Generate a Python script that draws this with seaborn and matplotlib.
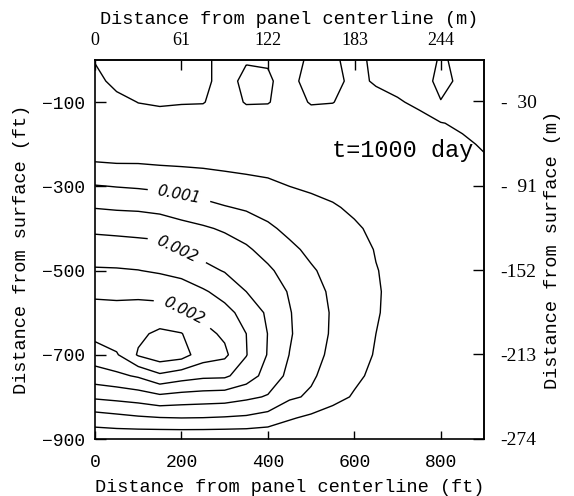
import numpy as np
import matplotlib
matplotlib.use("Agg")
import matplotlib.pyplot as plt
import seaborn as sns

# Grid: distance from panel centerline (ft) and depth (ft)
x_ft = [0, 50, 100, 150, 200, 250, 300, 350, 400, 450,
        500, 550, 600, 650, 700, 750, 800, 850, 900]
depth_ft = [0, -50, -100, -150, -200, -250, -300, -350, -400, -450,
            -500, -550, -600, -650, -700, -750, -800, -850, -900]

# Estimated field values (units of 1e-4), one list per x column, top to bottom
col_000 = [-0.3, 1.5, 2.5, 3.2, 4.0, 5.2, 10.3, 14.8, 19.1, 22.4, 25.5, 29.0, 31.8, 31.5, 27.5, 22.8, 15.8, 7.7, 1.5]
col_050 = [-2.0, -1.5, 1.5, 3.0, 4.0, 5.1, 9.85, 14.4, 18.8, 22.2, 25.4, 28.9, 31.5, 33.0, 29.5, 23.9, 16.5, 8.5, 1.5]
col_100 = [-3.0, -2.0, -0.1, 2.5, 3.9, 5.1, 9.5, 14.2, 18.5, 21.9, 25.1, 28.9, 31.8, 34.0, 35.5, 25.6, 17.3, 9.3, 1.2]
col_150 = [-3.5, -2.5, -0.6, 2.3, 3.8, 5.0, 9.0, 13.6, 18.0, 21.7, 24.4, 28.5, 31.8, 36.0, 38.0, 29.0, 18.8, 9.8, 1.0]
col_200 = [-3.0, -2.2, -0.3, 2.4, 3.6, 4.8, 8.0, 12.6, 16.6, 19.6, 23.5, 27.4, 30.4, 35.2, 37.0, 27.2, 18.0, 10.0, 1.0]
col_250 = [-1.0, -1.0, -0.2, 2.4, 3.5, 4.6, 7.4, 11.6, 15.6, 18.3, 21.4, 25.6, 28.8, 31.4, 32.4, 26.0, 17.6, 9.9, 1.0]
col_300 = [1.5, 1.5, 1.8, 2.6, 3.3, 4.3, 6.8, 10.3, 14.4, 17.3, 19.7, 23.3, 26.5, 29.2, 31.0, 25.8, 17.3, 9.6, 1.0]
col_350 = [0.3, -1.0, -0.3, 2.3, 3.1, 4.1, 6.2, 9.4, 12.8, 15.7, 18.2, 20.0, 23.3, 25.0, 25.2, 22.6, 16.0, 9.2, 1.0]
col_400 = [0.2, -0.3, -0.2, 2.2, 2.9, 3.8, 5.8, 8.3, 10.8, 13.3, 15.8, 17.8, 19.2, 19.9, 19.7, 18.0, 14.6, 8.0, 1.0]
col_450 = [0.6, 0.9, 1.6, 2.2, 2.7, 3.6, 5.0, 6.9, 8.9, 11.0, 13.0, 14.6, 15.3, 15.5, 14.9, 13.8, 10.8, 5.5, 0.8]
col_500 = [-0.3, -1.2, -0.3, 2.0, 2.5, 3.3, 4.5, 6.0, 7.5, 9.0, 10.5, 11.5, 12.0, 12.0, 11.6, 10.7, 9.3, 4.0, 0.6]
col_550 = [-0.2, -0.8, -0.1, 1.9, 2.4, 3.1, 4.1, 5.3, 6.5, 7.6, 8.6, 9.3, 9.6, 9.5, 9.0, 8.0, 6.4, 3.0, 0.5]
col_600 = [0.4, 0.7, 1.3, 1.8, 2.3, 2.9, 3.6, 4.5, 5.4, 6.1, 6.7, 7.1, 7.2, 7.1, 6.6, 5.8, 4.6, 2.4, 0.5]
col_650 = [-0.3, -0.3, 0.9, 1.6, 2.1, 2.7, 3.3, 3.9, 4.4, 4.85, 5.1, 5.2, 5.15, 5.0, 4.7, 4.1, 3.3, 1.8, 0.4]
col_700 = [-1.5, -1.0, 0.3, 1.5, 2.0, 2.5, 3.0, 3.4, 3.8, 4.1, 4.3, 4.4, 4.4, 4.2, 3.9, 3.4, 2.7, 1.5, 0.3]
col_750 = [-2.5, -2.5, -0.6, 1.0, 1.8, 2.3, 2.7, 3.1, 3.4, 3.6, 3.8, 3.9, 3.9, 3.7, 3.4, 3.0, 2.3, 1.3, 0.3]
col_800 = [-5.5, -6.5, -4.8, 0.2, 1.4, 2.0, 2.4, 2.8, 3.1, 3.3, 3.4, 3.5, 3.5, 3.3, 3.1, 2.7, 2.1, 1.2, 0.3]
col_850 = [-4.0, -3.8, -2.8, -0.8, 0.8, 1.6, 2.1, 2.5, 2.8, 3.0, 3.1, 3.2, 3.2, 3.0, 2.8, 2.5, 2.0, 1.1, 0.3]
col_900 = [-4.0, -3.5, -2.6, -1.6, -0.5, 0.8, 1.8, 2.3, 2.6, 2.8, 2.9, 3.0, 3.0, 2.9, 2.7, 2.4, 1.9, 1.1, 0.3]

value_scale = 1e-4
plain_levels = [-5, 0, 5, 15, 25, 35]      # unlabelled contours
label_levels = [10, 20, 30]                # contours carrying a label
label_texts = ["0.001", "0.002", "0.002"]  # as printed on the figure
label_spots = [(193, -328), (189, -451), (204, -598)]

bottom_ticks = [0, 200, 400, 600, 800]
left_ticks = [-100, -300, -500, -700, -900]
top_ticks_m = [0, 61, 122, 183, 244]
right_ticks_m = [30, 91, 152, 213, 274]
right_labels = ["-  30", "-  91", "-152", "-213", "-274"]

sns.set_theme(style="ticks")
MONO = "Liberation Mono"
SERIF = "Liberation Serif"
plt.rcParams["font.family"] = [MONO, "DejaVu Sans"]


def main():
    columns = [col_000, col_050, col_100, col_150, col_200, col_250, col_300,
               col_350, col_400, col_450, col_500, col_550, col_600, col_650,
               col_700, col_750, col_800, col_850, col_900]
    field = np.column_stack(columns) * value_scale

    fig = plt.figure(figsize=(5.74, 4.96), dpi=100)
    ax = fig.add_axes([0.1655, 0.1149, 0.6777, 0.7641])

    ax.contour(x_ft, depth_ft, field,
               levels=np.array(plain_levels) * value_scale,
               colors="black", linewidths=1.0, linestyles="solid")
    cs = ax.contour(x_ft, depth_ft, field,
                    levels=np.array(label_levels) * value_scale,
                    colors="black", linewidths=1.0, linestyles="solid")

    text_map = dict(zip(label_levels, label_texts))
    labels = ax.clabel(cs, manual=label_spots, inline=True, inline_spacing=9,
                       fontsize=11,
                       fmt=lambda v: text_map[int(round(v / value_scale))])
    for lbl in labels:
        lbl.set_fontfamily("DejaVu Sans")
        lbl.set_fontstyle("italic")

    ax.set_xlim(0, 900)
    ax.set_ylim(-900, 0)

    ax.set_xticks(bottom_ticks, labels=[str(v) for v in bottom_ticks],
                  fontsize=13, fontfamily=MONO)
    ax.set_yticks(left_ticks, labels=["\u2212" + str(abs(v)) for v in left_ticks],
                  fontsize=13, fontfamily=MONO)
    ax.tick_params(axis="x", direction="in", length=6, width=1.0, pad=11, colors="black")
    ax.tick_params(axis="y", direction="in", length=8, width=1.0, pad=7, colors="black")

    for sp in ax.spines.values():
        sp.set_visible(True)
        sp.set_color("black")
        sp.set_linewidth(1.2)

    ax.set_xlabel("Distance from panel centerline (ft)", fontsize=13.4,
                  fontfamily=MONO, va="center", color="black")
    ax.xaxis.set_label_coords(0.5, -0.127)
    ax.set_ylabel("Distance from surface (ft)", fontsize=13.4,
                  fontfamily=MONO, va="center", color="black")
    ax.yaxis.set_label_coords(-0.19, 0.5)

    # metric axes
    top = ax.secondary_xaxis("top", functions=(lambda x: x * 0.3048, lambda m: m / 0.3048))
    top.set_xticks(top_ticks_m, labels=[str(v) for v in top_ticks_m],
                   fontsize=13, fontfamily=SERIF)
    top.tick_params(direction="in", length=7, width=1.0, pad=8, colors="black")
    top.set_xlabel("Distance from panel centerline (m)", fontsize=13.4,
                   fontfamily=MONO, va="center", color="black")
    top.xaxis.set_label_coords(0.5, 1.108, transform=ax.transAxes)

    right = ax.secondary_yaxis("right", functions=(lambda y: -y * 0.3048, lambda m: -m / 0.3048))
    right.set_yticks(right_ticks_m, labels=right_labels, fontsize=14, fontfamily=SERIF)
    right.tick_params(direction="in", length=8, width=1.0, pad=12, colors="black")
    right.set_ylabel("Distance from surface (m)", fontsize=13.4,
                     fontfamily=MONO, va="center", color="black")
    right.yaxis.set_label_coords(1.177, 0.5, transform=ax.transAxes)

    ax.text(875, -215, "t=1000 day", ha="right", va="center",
            fontsize=17, fontfamily=MONO, color="black")

    fig.savefig("out.png", dpi=100, facecolor="white")


if __name__ == "__main__":
    main()
